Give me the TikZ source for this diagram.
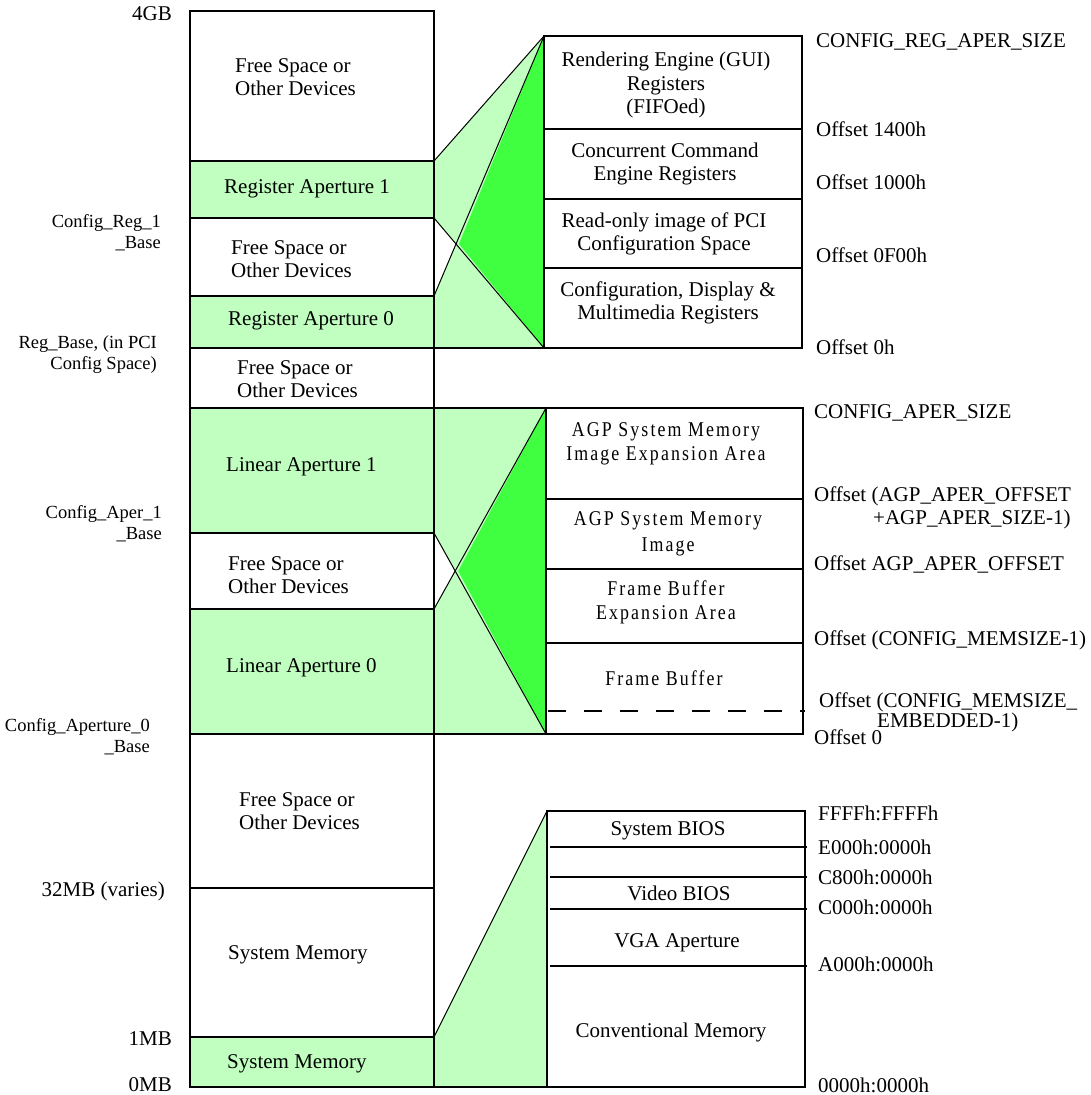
\documentclass[tikz,border=0pt]{standalone}
\usepackage{fontspec}
\setmainfont{Liberation Serif}
\newfontfamily\agpfont[FakeStretch=0.85,LetterSpace=10]{Liberation Serif}
\usetikzlibrary{calc}
\pgfdeclarelayer{bg}
\pgfsetlayers{bg,main}
\definecolor{lgreen}{RGB}{192,255,192}
\definecolor{dgreen}{RGB}{64,255,64}
\begin{document}
\begin{tikzpicture}[x=1pt,y=-1pt,
  cell/.style={draw, line width=2.3pt, outer sep=0pt, inner sep=0pt, anchor=north west},
  free/.style={cell, fill=white},
  aper/.style={cell, fill=lgreen},
  thinline/.style={line width=1pt},
  thickline/.style={line width=2.3pt},
  lbl/.style={font=\fontsize{21}{23}\selectfont, inner sep=0pt},
  small/.style={font=\fontsize{18.5}{21}\selectfont, inner sep=0pt, align=right, anchor=east},
  agp/.style={font=\fontsize{21}{24}\agpfont, inner sep=0pt, align=center}
]
\useasboundingbox (0,0) rectangle (1090,1095);

% ---------- left column ----------
\node[free, minimum width=244pt, minimum height=150pt] (r1) at (190,11) {};
\node[aper, minimum width=244pt, minimum height=57pt] (r2) at (190,161) {};
\node[free, minimum width=244pt, minimum height=78pt] (r3) at (190,218) {};
\node[aper, minimum width=244pt, minimum height=52pt] (r4) at (190,296) {};
\node[free, minimum width=244pt, minimum height=60pt] (r5) at (190,348) {};
\node[aper, minimum width=244pt, minimum height=125pt] (r6) at (190,408) {};
\node[free, minimum width=244pt, minimum height=76pt] (r7) at (190,533) {};
\node[aper, minimum width=244pt, minimum height=125pt] (r8) at (190,609) {};
\node[free, minimum width=244pt, minimum height=154pt] (r9) at (190,734) {};
\node[free, minimum width=244pt, minimum height=149pt] (r10) at (190,888) {};
\node[aper, minimum width=244pt, minimum height=50pt] (r11) at (190,1037) {};

\node[lbl, anchor=west, align=left] (t1) at (235,77.5) {Free Space or\\Other Devices};
\node[lbl, anchor=west] (t2) at (224,189) {Register Aperture 1};
\node[lbl, anchor=west, align=left] (t3) at (231,259.5) {Free Space or\\Other Devices};
\node[lbl, anchor=west] (t4) at (228,321) {Register Aperture 0};
\node[lbl, anchor=west, align=left] (t5) at (237,379.5) {Free Space or\\Other Devices};
\node[lbl, anchor=west] (t6) at (226,467) {Linear Aperture 1};
\node[lbl, anchor=west, align=left] (t7) at (228,575) {Free Space or\\Other Devices};
\node[lbl, anchor=west] (t8) at (226,668) {Linear Aperture 0};
\node[lbl, anchor=west, align=left] (t9) at (239,811) {Free Space or\\Other Devices};
\node[lbl, anchor=west] (t10) at (228,955) {System Memory};
\node[lbl, anchor=west] (t11) at (227,1064) {System Memory};

% ---------- left labels ----------
\node[lbl, anchor=east] (l1) at (172,14) {4GB};
\node[small] (l2) at (161,232.5) {Config\_Reg\_1\\\_Base};
\node[small] (l3) at (157,354.5) {Reg\_Base, (in PCI\\Config Space)};
\node[small] (l4) at (162,523.5) {Config\_Aper\_1\\\_Base};
\node[small] (l5) at (150,737) {Config\_Aperture\_0\\\_Base};
\node[lbl, anchor=east] (l6) at (165,891) {32MB (varies)};
\node[lbl, anchor=east] (l7) at (172,1039) {1MB};
\node[lbl, anchor=east] (l8) at (172,1085) {0MB};

% ---------- register box ----------
\node[free, minimum width=258pt, minimum height=93pt] (reg1) at (544,36) {};
\node[free, minimum width=258pt, minimum height=70pt] (reg2) at (544,129) {};
\node[free, minimum width=258pt, minimum height=69pt] (reg3) at (544,199) {};
\node[free, minimum width=258pt, minimum height=80pt] (reg4) at (544,268) {};
\node[lbl, align=center, font=\fontsize{21}{23.5}\selectfont] (g1) at (666,85) {Rendering Engine (GUI)\\Registers\\(FIFOed)};
\node[lbl, align=center] (g2) at (665,163.5) {Concurrent Command\\Engine Registers};
\node[lbl, align=center] (g3) at (664,233.5) {Read-only image of PCI\\Configuration Space};
\node[lbl, align=center] (g4) at (668,303) {Configuration, Display \&\\Multimedia Registers};

\node[lbl, anchor=west] (o1) at (816,42) {CONFIG\_REG\_APER\_SIZE};
\node[lbl, anchor=west] (o2) at (816,129) {Offset 1400h};
\node[lbl, anchor=west] (o3) at (816,182) {Offset 1000h};
\node[lbl, anchor=west] (o4) at (816,255) {Offset 0F00h};
\node[lbl, anchor=west] (o5) at (816,347) {Offset 0h};

% ---------- AGP / frame buffer box ----------
\node[free, minimum width=257pt, minimum height=91pt] (agp1) at (546,408) {};
\node[free, minimum width=257pt, minimum height=70pt] (agp2) at (546,499) {};
\node[free, minimum width=257pt, minimum height=74pt] (agp3) at (546,569) {};
\node[free, minimum width=257pt, minimum height=91pt] (agp4) at (546,643) {};
\node[agp] (a1) at (666,444) {AGP System Memory\\Image Expansion Area};
\node[agp, font=\fontsize{21}{26}\agpfont] (a2) at (668,534) {AGP System Memory\\Image};
\node[agp] (a3) at (666,602.5) {Frame Buffer\\Expansion Area};
\node[agp] (a4) at (664,678) {Frame Buffer};
\coordinate (dashL) at (548,711);
\coordinate (dashR) at (805,711);
\draw[line width=2pt, dash pattern=on 18pt off 18pt] (dashL) -- (dashR);

\node[lbl, anchor=west] (p1) at (814,413) {CONFIG\_APER\_SIZE};
\node[lbl, anchor=west, align=left] (p2) at (814,507.5) {Offset (AGP\_APER\_OFFSET\\\hspace*{59pt}+AGP\_APER\_SIZE-1)};
\node[lbl, anchor=west] (p3) at (814,564) {Offset AGP\_APER\_OFFSET};
\node[lbl, anchor=west] (p4) at (814,640) {Offset (CONFIG\_MEMSIZE-1)};
\node[lbl, anchor=west, align=left, font=\fontsize{21}{20}\selectfont] (p5) at (819,712) {Offset (CONFIG\_MEMSIZE\_\\\hspace*{58pt}EMBEDDED-1)};
\node[lbl, anchor=west] (p6) at (814,737) {Offset 0};

% ---------- BIOS box ----------
\node[free, minimum width=258pt, minimum height=276pt] (bios) at (547,811) {};
\coordinate (b1a) at (550,847); \coordinate (b1b) at (807,847);
\coordinate (b2a) at (550,877); \coordinate (b2b) at (807,877);
\coordinate (b3a) at (550,909); \coordinate (b3b) at (807,909);
\coordinate (b4a) at (550,966); \coordinate (b4b) at (807,966);
\draw[thickline] (b1a) -- (b1b);
\draw[thickline] (b2a) -- (b2b);
\draw[thickline] (b3a) -- (b3b);
\draw[thickline] (b4a) -- (b4b);
\node[lbl] (s1) at (668,831) {System BIOS};
\node[lbl] (s2) at (679,893) {Video BIOS};
\node[lbl] (s3) at (677,943) {VGA Aperture};
\node[lbl] (s4) at (671,1032) {Conventional Memory};

\node[lbl, anchor=west] (q1) at (818,813) {FFFFh:FFFFh};
\node[lbl, anchor=west] (q2) at (818,847) {E000h:0000h};
\node[lbl, anchor=west] (q3) at (818,877) {C800h:0000h};
\node[lbl, anchor=west] (q4) at (818,907) {C000h:0000h};
\node[lbl, anchor=west] (q5) at (818,964) {A000h:0000h};
\node[lbl, anchor=west] (q6) at (818,1085) {0000h:0000h};

% ---------- crossings ----------
\coordinate (xr) at (intersection of r3.north east--reg4.south west and r3.south east--reg1.north west);
\coordinate (xa) at (intersection of r7.north east--agp4.south west and r7.south east--agp1.north west);

% ---------- fills behind ----------
\begin{pgfonlayer}{bg}
\fill[lgreen] (r2.north east) -- (reg1.north west) -- (reg4.south west) -- (r4.south east) -- cycle;
\fill[white] (r3.north east) -- (xr) -- (r3.south east) -- cycle;
\fill[dgreen] (reg1.north west) -- ($(xr)+(3,0)$) -- (reg4.south west) -- cycle;
\fill[lgreen] (r6.north east) -- (agp1.north west) -- (agp4.south west) -- (r8.south east) -- cycle;
\fill[white] (r7.north east) -- (xa) -- (r7.south east) -- cycle;
\fill[dgreen] (agp1.north west) -- ($(xa)+(3,0)$) -- (agp4.south west) -- cycle;
\fill[lgreen] (r11.north east) -- (bios.north west) -- (bios.south west) -- (r11.south east) -- cycle;
\end{pgfonlayer}

% ---------- connectors ----------
\draw[thinline] (r2.north east) -- (reg1.north west);
\draw[thinline] (r3.south east) -- (reg1.north west);
\draw[thinline] (r3.north east) -- (reg4.south west);
\draw[thickline] (r4.south east) -- (reg4.south west);

\draw[thickline] (r6.north east) -- (agp1.north west);
\draw[thinline] (r7.south east) -- (agp1.north west);
\draw[thinline] (r7.north east) -- (agp4.south west);
\draw[thickline] (r8.south east) -- (agp4.south west);

\draw[thinline] (r11.north east) -- (bios.north west);
\draw[thickline] (r11.south east) -- (bios.south west);
\end{tikzpicture}
\end{document}
